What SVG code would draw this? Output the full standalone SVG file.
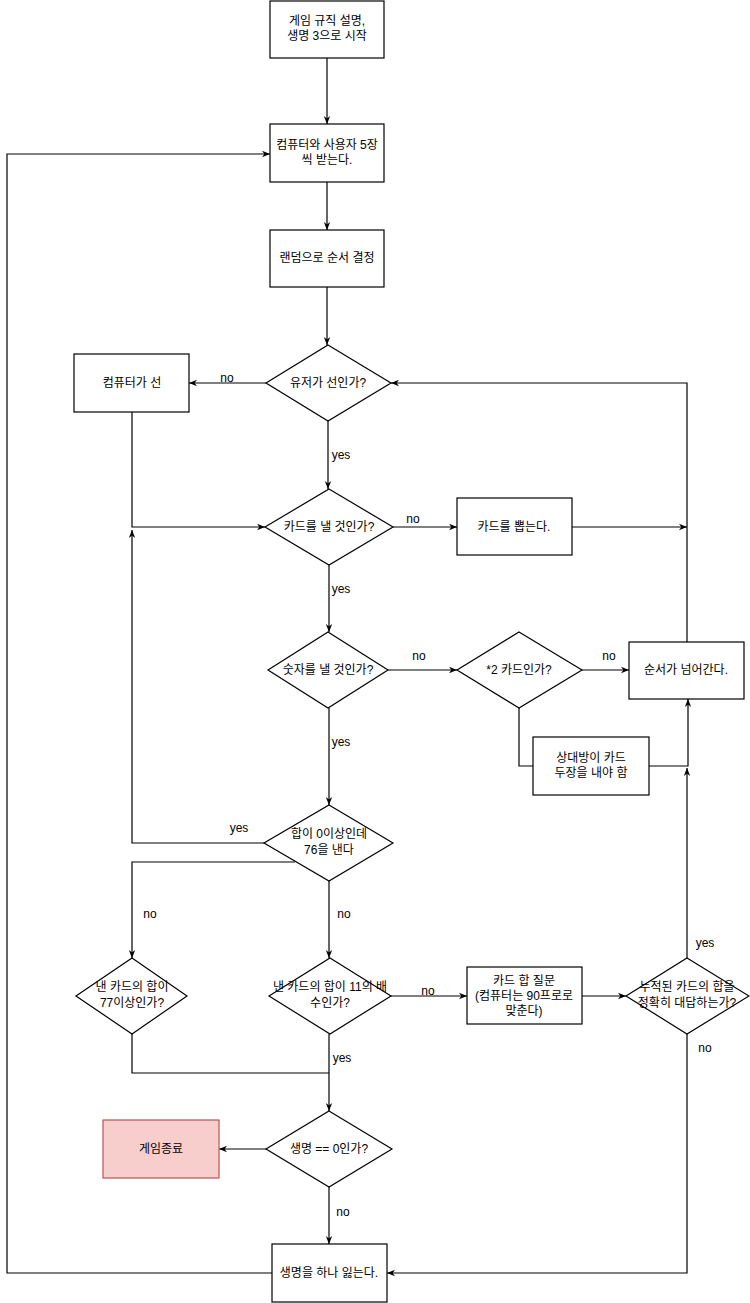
<svg xmlns="http://www.w3.org/2000/svg" width="750" height="1303" viewBox="0 0 750 1303">
<style>
.n{fill:#fff;stroke:#000;stroke-width:1.2}
.end{fill:#f8cecc;stroke:#b85450;stroke-width:1.2}
.c{fill:none;stroke:#000;stroke-width:1.2}
.a{marker-end:url(#arr)}
text{font-family:"Liberation Sans","Noto Sans CJK KR",sans-serif;font-size:12px;fill:#000;text-anchor:middle}
</style>
<defs>
<marker id="arr" viewBox="0 0 10 10" refX="10" refY="5" markerWidth="8" markerHeight="8" markerUnits="userSpaceOnUse" orient="auto">
<path d="M0,1 L10,5 L0,9 L3,5 Z" fill="#000"/>
</marker>
</defs>
<g id="connectors">
<path class="c a" d="M327,58 V124"/>
<path class="c a" d="M327,182 V230"/>
<path class="c a" d="M327,287 V345"/>
<path class="c a" d="M266,383 H189"/>
<path class="c a" d="M328,421 V489"/>
<path class="c a" d="M132,412 V527 H265"/>
<path class="c a" d="M393,527 H457"/>
<path class="c a" d="M572,527 H687"/>
<path class="c a" d="M687,642 V383 H391"/>
<path class="c a" d="M329,565 V632"/>
<path class="c a" d="M388,670 H457"/>
<path class="c a" d="M582,670 H629"/>
<path class="c" d="M519,708 V766 H533"/>
<path class="c a" d="M649,766 H688 V699"/>
<path class="c a" d="M329,708 V805"/>
<path class="c a" d="M264,843 H132 V530"/>
<path class="c a" d="M295,862 H132 V958"/>
<path class="c a" d="M329,881 V958"/>
<path class="c a" d="M391,996 H467"/>
<path class="c a" d="M582,996 H626"/>
<path class="c a" d="M687,958 V768"/>
<path class="c a" d="M687,1034 V1273 H387"/>
<path class="c a" d="M329,1034 V1111"/>
<path class="c" d="M132,1034 V1073 H329"/>
<path class="c a" d="M266,1149 H219"/>
<path class="c a" d="M329,1187 V1244"/>
<path class="c a" d="M272,1273 H7 V154 H270"/>
<text x="227" y="382">no</text>
<text x="341" y="459">yes</text>
<text x="413" y="523">no</text>
<text x="341" y="593">yes</text>
<text x="419" y="660">no</text>
<text x="609" y="660">no</text>
<text x="341" y="746">yes</text>
<text x="239" y="832">yes</text>
<text x="150" y="918">no</text>
<text x="344" y="918">no</text>
<text x="428" y="995">no</text>
<text x="705" y="947">yes</text>
<text x="705" y="1052">no</text>
<text x="342" y="1062">yes</text>
<text x="343" y="1216">no</text>
</g>
<g id="start"><rect class="n" x="270" y="1" width="114" height="57"/><text x="327" y="25">게임 규직 설명,</text><text x="327" y="40">생명 3으로 시작</text></g>
<g id="deal"><rect class="n" x="270" y="124" width="114" height="58"/><text x="327" y="149">컴퓨터와 사용자 5장</text><text x="327" y="164">씩 받는다.</text></g>
<g id="order"><rect class="n" x="270" y="230" width="114" height="57"/><text x="327" y="262">랜덤으로 순서 결정</text></g>
<g id="userFirst"><path class="n" d="M328,345 L391,383 L328,421 L266,383 Z"/><text x="328" y="387">유저가 선인가?</text></g>
<g id="comFirst"><rect class="n" x="74" y="354" width="115" height="58"/><text x="132" y="387">컴퓨터가 선</text></g>
<g id="playCard"><path class="n" d="M329,489 L393,527 L329,565 L265,527 Z"/><text x="329" y="531">카드를 낼 것인가?</text></g>
<g id="drawCard"><rect class="n" x="457" y="498" width="115" height="57"/><text x="514" y="531">카드를 뽑는다.</text></g>
<g id="playNumber"><path class="n" d="M328,632 L388,670 L328,708 L268,670 Z"/><text x="328" y="674">숫자를 낼 것인가?</text></g>
<g id="x2Card"><path class="n" d="M519,632 L582,670 L519,708 L457,670 Z"/><text x="519" y="674">*2 카드인가?</text></g>
<g id="nextTurn"><rect class="n" x="629" y="642" width="115" height="57"/><text x="686" y="674">순서가 넘어간다.</text></g>
<g id="opponentTwo"><rect class="n" x="533" y="737" width="116" height="58"/><text x="591" y="762">상대방이 카드</text><text x="591" y="777">두장을 내야 함</text></g>
<g id="play76"><path class="n" d="M329,805 L393,843 L329,881 L264,843 Z"/><text x="329" y="838">합이 0이상인데</text><text x="329" y="854">76을 낸다</text></g>
<g id="over77"><path class="n" d="M132,958 L187,996 L132,1034 L76,996 Z"/><text x="132" y="991">낸 카드의 합이</text><text x="132" y="1007">77이상인가?</text></g>
<g id="mult11"><path class="n" d="M330,958 L391,996 L330,1034 L269,996 Z"/><text x="330" y="991">낸 카드의 합이 11의 배</text><text x="330" y="1007">수인가?</text></g>
<g id="askSum"><rect class="n" x="467" y="967" width="115" height="57"/><text x="524" y="985">카드 합 질문</text><text x="524" y="1000">(컴퓨터는 90프로로</text><text x="524" y="1015">맞춘다)</text></g>
<g id="answerSum"><path class="n" d="M687,958 L749,996 L687,1034 L626,996 Z"/><text x="687" y="991">누적된 카드의 합을</text><text x="687" y="1007">정확히 대답하는가?</text></g>
<g id="gameOver"><rect class="end" x="103" y="1120" width="116" height="58"/><text x="161" y="1153">게임종료</text></g>
<g id="lifeZero"><path class="n" d="M329,1111 L392,1149 L329,1187 L266,1149 Z"/><text x="329" y="1153">생명 == 0인가?</text></g>
<g id="loseLife"><rect class="n" x="272" y="1244" width="115" height="58"/><text x="329" y="1277">생명을 하나 잃는다.</text></g>
</svg>
